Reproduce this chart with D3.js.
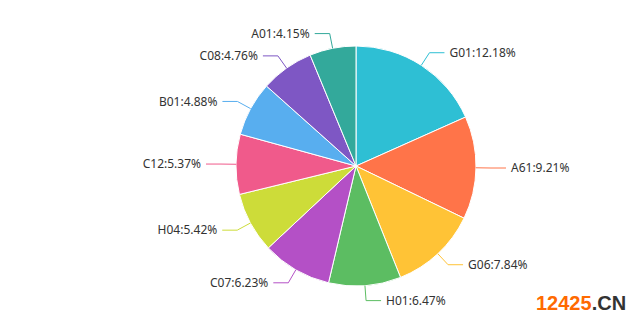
<!DOCTYPE html>
<html>
<head>
<meta charset="utf-8">
<script src="https://cdn.jsdelivr.net/npm/d3@7/dist/d3.min.js"></script>
<style>
  html, body { margin: 0; padding: 0; background: #fff; }
  svg { display: block; }
</style>
</head>
<body>
<svg id="chart" width="642" height="325"></svg>
<script>
// Share of each classification code (percent)
const codes = ["G01", "A61", "G06", "H01", "C07", "H04", "C12", "B01", "C08", "A01"];
const shares = [12.18, 9.21, 7.84, 6.47, 6.23, 5.42, 5.37, 4.88, 4.76, 4.15];
const palette = ["#2ebfd4", "#ff7449", "#ffc336", "#5cbd62", "#b450c6",
                 "#cddc39", "#f05a8b", "#58aeef", "#7e57c4", "#33a99b"];

const width = 642, height = 325;
const cx = 356, cy = 166, radius = 120;
const len1 = 15, len2 = 15, gap = 5;

const svg = d3.select("#chart");
const g = svg.append("g").attr("transform", `translate(${cx},${cy})`);

const rows = codes.map((c, i) => ({ code: c, value: shares[i], color: palette[i] }));

const pie = d3.pie().value(d => d.value).sort(null);
const arcs = pie(rows);
const arc = d3.arc().innerRadius(0).outerRadius(radius);

g.selectAll("path.slice")
  .data(arcs)
  .join("path")
  .attr("class", "slice")
  .attr("d", arc)
  .attr("fill", d => d.data.color)
  .attr("stroke", "#fff")
  .attr("stroke-width", 1);

// Leader lines: radial segment then horizontal segment
function pt(angle, r) {
  return [Math.sin(angle) * r, -Math.cos(angle) * r];
}

const labels = arcs.map(d => {
  const mid = (d.startAngle + d.endAngle) / 2;
  const p0 = pt(mid, radius);
  const p1 = pt(mid, radius + len1);
  const right = Math.sin(mid) >= 0;
  const p2 = [p1[0] + (right ? len2 : -len2), p1[1]];
  return { d, p0, p1, p2, right };
});

g.selectAll("polyline.lead")
  .data(labels)
  .join("polyline")
  .attr("class", "lead")
  .attr("points", l => [l.p0, l.p1, l.p2].map(p => p.join(",")).join(" "))
  .attr("fill", "none")
  .attr("stroke", l => l.d.data.color)
  .attr("stroke-width", 1);

g.selectAll("text.lbl")
  .data(labels)
  .join("text")
  .attr("class", "lbl")
  .attr("x", l => l.p2[0] + (l.right ? gap : -gap))
  .attr("y", l => l.p2[1])
  .attr("dy", "0.35em")
  .attr("text-anchor", l => l.right ? "start" : "end")
  .attr("font-family", "'Noto Sans', 'Open Sans', sans-serif")
  .attr("font-size", 12)
  .attr("fill", "#333")
  .text(l => `${l.d.data.code}:${d3.format(".2f")(l.d.data.value)}%`);

// Site mark in the lower right corner
const mark = svg.append("text")
  .attr("x", 536)
  .attr("y", 310)
  .attr("font-family", "'Liberation Sans', Arial, sans-serif")
  .attr("font-weight", "bold")
  .attr("font-size", 20);
mark.append("tspan").attr("fill", "#ff6a00").text("12425");
mark.append("tspan").attr("fill", "#333").text(".CN");
</script>
</body>
</html>
